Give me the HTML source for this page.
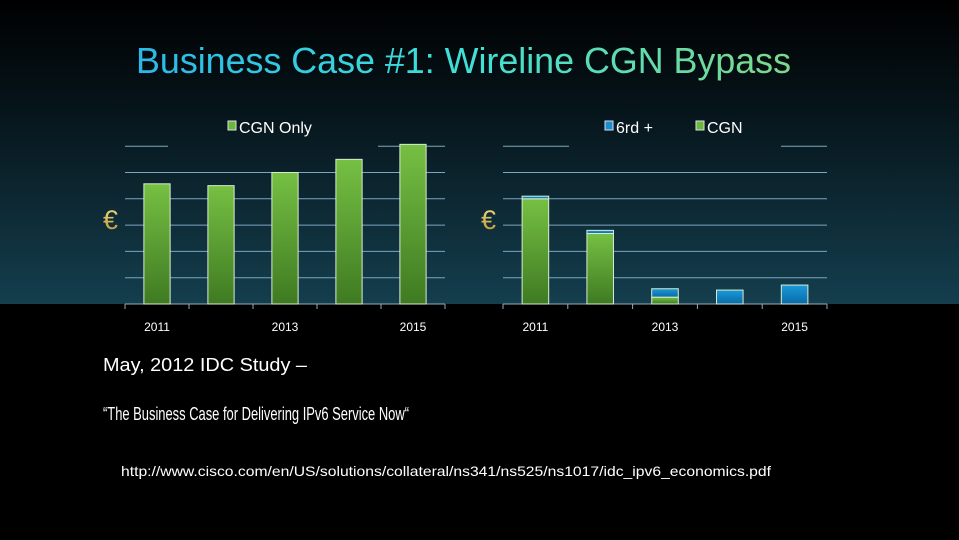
<!DOCTYPE html>
<html><head><meta charset="utf-8"><style>
html,body{margin:0;padding:0;background:#000;}
svg{display:block;font-family:"Liberation Sans",sans-serif;}
</style></head><body>
<svg id="s" width="959" height="540" viewBox="0 0 959 540">
<defs>
<linearGradient id="bg" x1="0" y1="0" x2="0" y2="1">
<stop offset="0" stop-color="#000"/><stop offset="0.35" stop-color="#06141a"/><stop offset="1" stop-color="#143e4e"/></linearGradient>
<linearGradient id="tg" x1="0" y1="0" x2="1" y2="0">
<stop offset="0" stop-color="#2bb8e8"/><stop offset="0.5" stop-color="#40e0d8"/><stop offset="1" stop-color="#7ed88a"/></linearGradient>
<linearGradient id="gg" x1="0" y1="0" x2="0" y2="1">
<stop offset="0" stop-color="#76c043"/><stop offset="1" stop-color="#3f7a22"/></linearGradient>
<linearGradient id="bb" x1="0" y1="0" x2="0" y2="1">
<stop offset="0" stop-color="#1a9ad8"/><stop offset="1" stop-color="#0a6aa8"/></linearGradient>
<linearGradient id="eu" x1="0" y1="0" x2="0" y2="1">
<stop offset="0" stop-color="#f5e08a"/><stop offset="1" stop-color="#b8902a"/></linearGradient>
</defs>
<rect x="0" y="0" width="959" height="304" fill="url(#bg)"/>
<text x="136" y="73" font-size="36" fill="url(#tg)" textLength="655" lengthAdjust="spacingAndGlyphs">Business Case #1: Wireline CGN Bypass</text>
<g id="c1"></g>
<g id="c2"></g>
<text x="103" y="371" font-size="18" fill="#fff" textLength="204" lengthAdjust="spacingAndGlyphs">May, 2012 IDC Study –</text>
<text x="103" y="420" font-size="18" fill="#fff" textLength="306" lengthAdjust="spacingAndGlyphs">“The Business Case for Delivering IPv6 Service Now“</text>
<text x="121" y="476" font-size="14" fill="#fff" textLength="650" lengthAdjust="spacingAndGlyphs">http://www.cisco.com/en/US/solutions/collateral/ns341/ns525/ns1017/idc_ipv6_economics.pdf</text>
</svg>
<script>
const years = ["2011","2012","2013","2014","2015"];
const tickLabels = ["2011","","2013","","2015"];
const cgnOnly = [4.57, 4.5, 5.0, 5.5, 6.07];
const cgnPart = [4.0, 2.68, 0.26, 0, 0];
const sixrdPart = [0.1, 0.12, 0.32, 0.53, 0.72];
const NS="http://www.w3.org/2000/svg";
function mk(p,t,a){const e=document.createElementNS(NS,t);for(const k in a)e.setAttribute(k,a[k]);p.appendChild(e);return e;}
function chart(g,x0,x1,stacks,legend){
  const base=304, unit=26.3, y=v=>base-v*unit, bw=(x1-x0)/years.length, xs=i=>x0+i*bw;
  for(let k=1;k<=6;k++){
    const yy=y(k);
    if(k===6){
      for(const seg of legend.gaps){const l=mk(g,'line',{x1:seg[0],x2:seg[1],y1:yy,y2:yy,stroke:'#7aa6c0','stroke-width':1});
        
        }
    } else {
      const l=mk(g,'line',{x1:x0,x2:x1,y1:yy,y2:yy,stroke:'#7aa6c0','stroke-width':1});
      
      
    }
  }
  const ax=mk(g,'line',{x1:x0,x2:x1,y1:base,y2:base,stroke:'#9ab','stroke-width':1});
  
  
  for(let i=0;i<=years.length;i++){const t=mk(g,'line',{x1:xs(i),x2:xs(i),y1:base,y2:base+5,stroke:'#9ab'});
    
    }
  years.forEach((yr,i)=>{
    const cx=xs(i)+bw/2, w=bw*0.41; let acc=0;
    stacks.forEach(s=>{
      const v=s.vals[i]; if(v<=0) return;
      const r=mk(g,'rect',{x:cx-w/2,y:y(acc+v),width:w,height:v*unit,fill:s.fill,stroke:'#d8ecd0','stroke-width':1});
      
      
      acc+=v;
    });
    if(tickLabels[i]){const t=mk(g,'text',{x:cx,y:331,'font-size':12,fill:'#fff','text-anchor':'middle'});t.textContent=tickLabels[i];
      
      }
  });
  const e=mk(g,'text',{x:x0-22,y:229,'font-size':27,fill:'url(#eu)'});e.textContent='€';
  
  
  legend.items.forEach(it=>{
    const r=mk(g,'rect',{x:it.x,y:121,width:8,height:9,fill:it.fill,stroke:'#dde','stroke-width':1});
    
    
    const t=mk(g,'text',{x:it.x+11,y:133,'font-size':16,fill:'#fff'});t.textContent=it.label;
    
    
  });
}
chart(document.getElementById('c1'),125,445,[{name:'cgn-only',vals:cgnOnly,fill:'url(#gg)'}],
  {gaps:[[125,168],[378,445]],items:[{x:228,label:'CGN Only',fill:'#6ab83a'}]});
chart(document.getElementById('c2'),503,827,[{name:'cgn',vals:cgnPart,fill:'url(#gg)'},{name:'6rd',vals:sixrdPart,fill:'url(#bb)'}],
  {gaps:[[503,569],[781,827]],items:[{x:605,label:'6rd +',fill:'#1a8ed0'},{x:696,label:'CGN',fill:'#6ab83a'}]});
</script>
</body></html>
